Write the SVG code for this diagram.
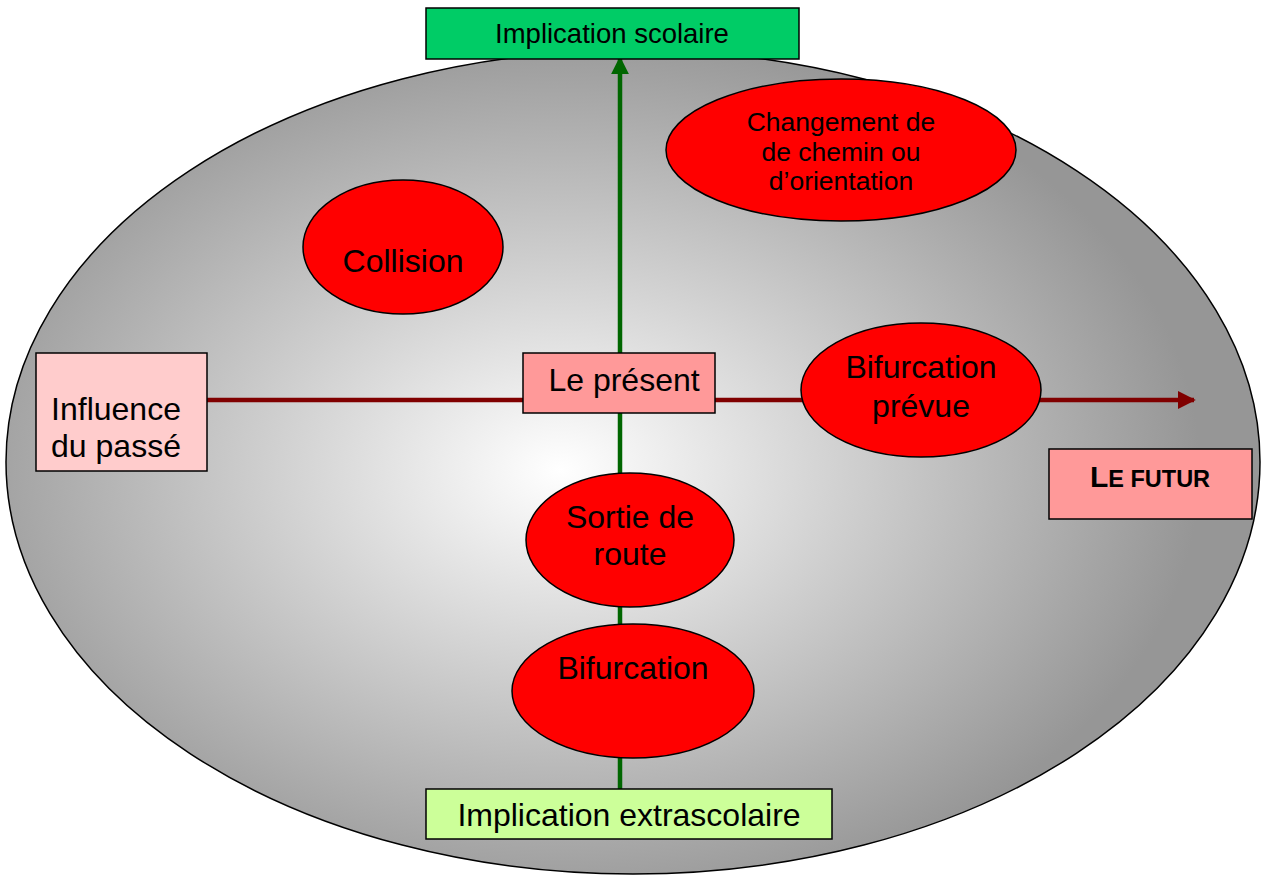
<svg xmlns="http://www.w3.org/2000/svg" width="1263" height="876" viewBox="0 0 1263 876">
<style>
text{font-family:"Liberation Sans",Arial,sans-serif;fill:#000;text-anchor:middle}
.node{stroke:#000;stroke-width:1.5}
.red{fill:#FF0000}
.pink{fill:#FF9999}
.big{font-size:32px}
</style>
<defs>
<radialGradient id="bg" cx="560" cy="470" r="640" gradientUnits="userSpaceOnUse" gradientTransform="translate(560 470) scale(1 0.7) translate(-560 -470)">
<stop offset="0" stop-color="#FFFFFF"/>
<stop offset="1" stop-color="#969696"/>
</radialGradient>
<marker id="ag" viewBox="0 0 10 10" refX="9" refY="5" markerWidth="4" markerHeight="4" orient="auto"><path d="M0,0L10,5L0,10z" fill="#006600"/></marker>
<marker id="ar" viewBox="0 0 10 10" refX="9" refY="5" markerWidth="4" markerHeight="4" orient="auto"><path d="M0,0L10,5L0,10z" fill="#800000"/></marker>
</defs>
<rect width="1263" height="876" fill="#fff"/>
<g id="background">
<ellipse cx="633" cy="462" rx="627" ry="412" fill="url(#bg)" stroke="#000" stroke-width="1.5"/>
</g>
<g id="connectors">
<line x1="620" y1="790" x2="620" y2="58" stroke="#006600" stroke-width="4.5" marker-end="url(#ag)"/>
<line x1="207" y1="400" x2="1194" y2="400" stroke="#800000" stroke-width="4.5" marker-end="url(#ar)"/>
</g>
<g id="implication-scolaire">
<rect class="node" x="426" y="8" width="373" height="51" fill="#00CC66"/>
<text x="612" y="43" font-size="27.5">Implication scolaire</text>
</g>
<g id="changement">
<ellipse class="node red" cx="841" cy="150" rx="175" ry="71"/>
<text x="841" y="131" font-size="26.5">Changement de</text>
<text x="841" y="161" font-size="26.5">de chemin ou</text>
<text x="841" y="190" font-size="26.5">d’orientation</text>
</g>
<g id="collision">
<ellipse class="node red" cx="403" cy="247" rx="100" ry="67"/>
<text class="big" x="403" y="272">Collision</text>
</g>
<g id="influence">
<rect class="node" x="36" y="353" width="171" height="118" fill="#FFCCCC"/>
<text class="big" x="116" y="420">Influence</text>
<text class="big" x="116" y="457">du passé</text>
</g>
<g id="present">
<rect class="node pink" x="523" y="353" width="192" height="60"/>
<text class="big" x="624" y="391">Le présent</text>
</g>
<g id="bifurcation-prevue">
<ellipse class="node red" cx="921" cy="390" rx="120" ry="67"/>
<text class="big" x="921" y="378">Bifurcation</text>
<text class="big" x="921" y="417">prévue</text>
</g>
<g id="futur">
<rect class="node pink" x="1049" y="449" width="203" height="70"/>
<text x="1150" y="487" font-weight="bold"><tspan font-size="30">L</tspan><tspan font-size="23.5">E FUTUR</tspan></text>
</g>
<g id="sortie">
<ellipse class="node red" cx="630" cy="540" rx="104" ry="67"/>
<text class="big" x="630" y="528">Sortie de</text>
<text class="big" x="630" y="565">route</text>
</g>
<g id="bifurcation">
<ellipse class="node red" cx="633" cy="691" rx="121" ry="67"/>
<text class="big" x="633" y="679">Bifurcation</text>
</g>
<g id="implication-extrascolaire">
<rect class="node" x="426" y="789" width="406" height="50" fill="#CCFF99"/>
<text class="big" x="629" y="826">Implication extrascolaire</text>
</g>
</svg>
